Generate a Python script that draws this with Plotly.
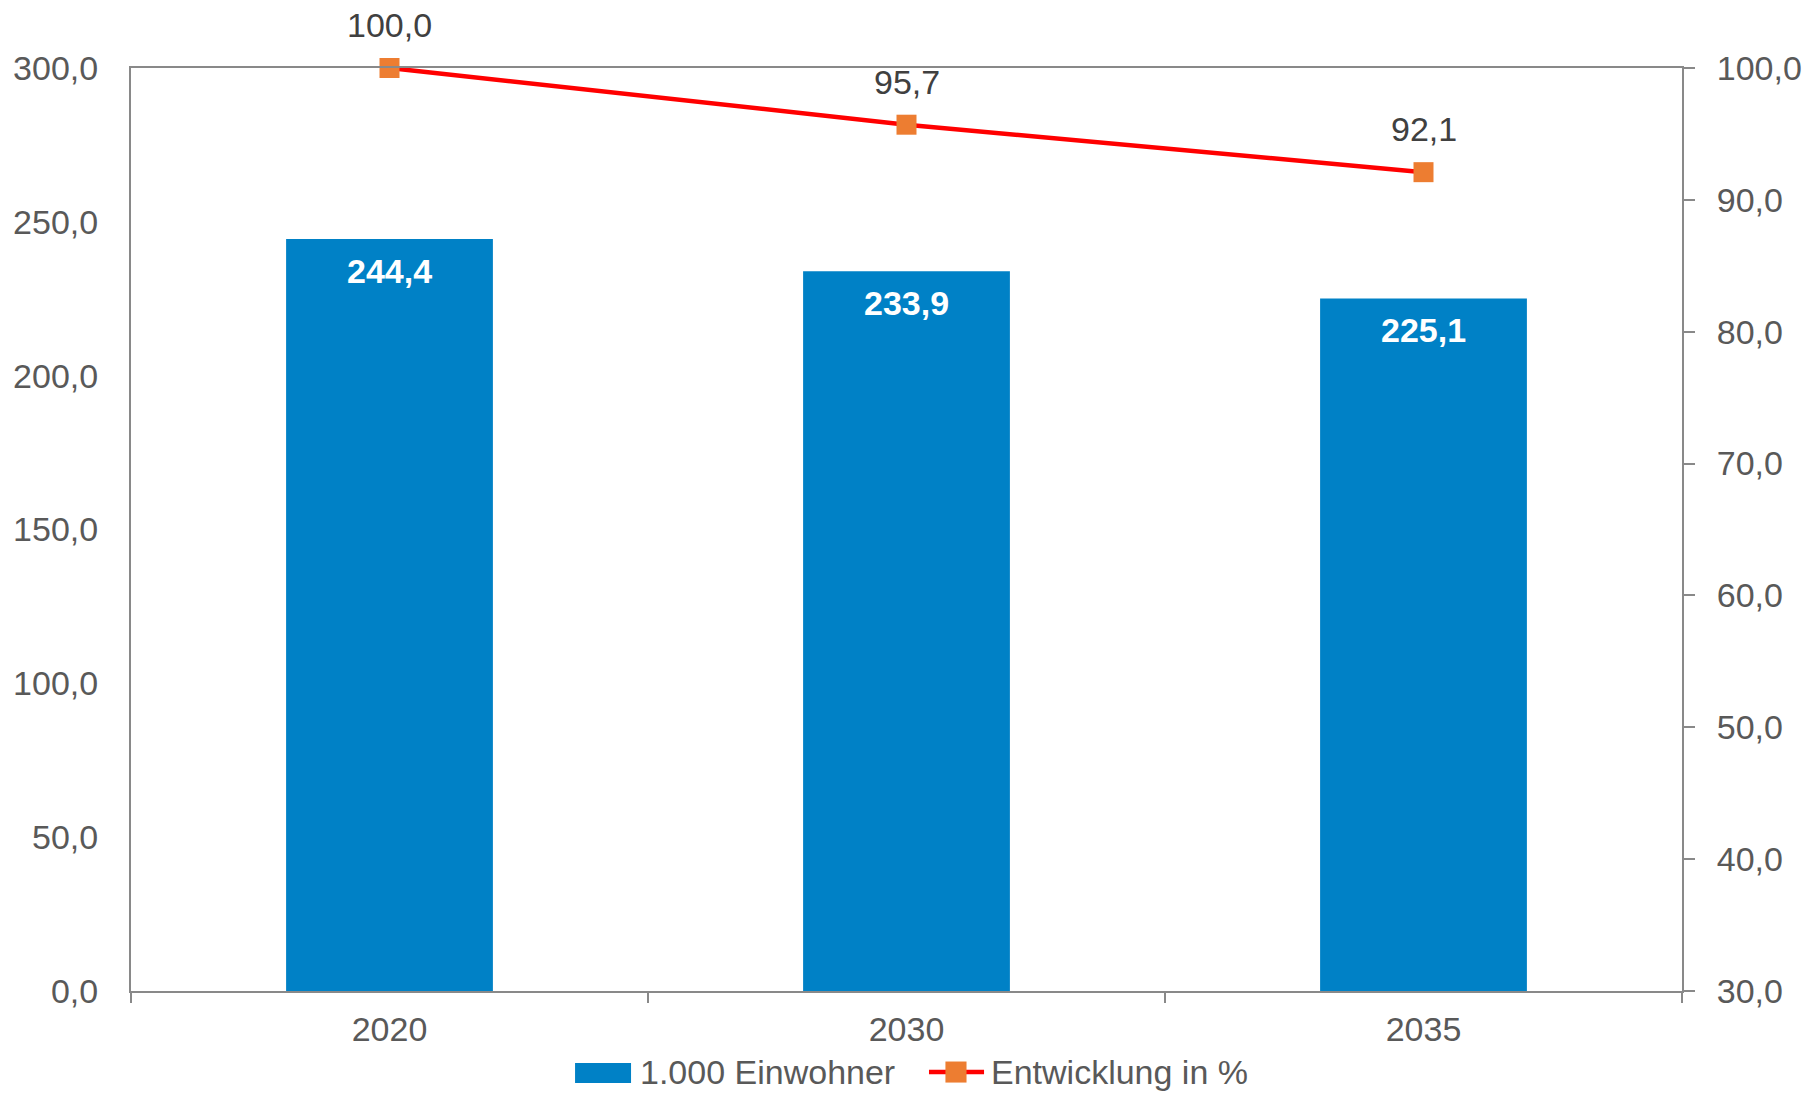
import plotly.graph_objects as go

years = ["2020", "2030", "2035"]
einwohner = [244.4, 233.9, 225.1]
entwicklung = [100.0, 95.7, 92.1]
left_ticks = [0, 50, 100, 150, 200, 250, 300]
right_ticks = [30, 40, 50, 60, 70, 80, 90, 100]
bar_name = "1.000 Einwohner"
line_name = "Entwicklung in %"

FONT = "Liberation Sans, Arial, sans-serif"
FS = 34
GRAY = "#595959"
AXIS = "#898989"
BLUE = "#0081C6"
RED = "#FF0000"
ORANGE = "#ED7D31"

def de(v):
    return f"{v:.1f}".replace(".", ",")

fig = go.Figure()
fig.add_trace(go.Bar(
    x=years, y=einwohner, name=bar_name,
    marker=dict(color=BLUE, line=dict(width=0)),
    yaxis="y", showlegend=False,
))
fig.add_trace(go.Scatter(
    x=years, y=entwicklung, name=line_name,
    mode="lines+markers",
    line=dict(color=RED, width=4.5),
    marker=dict(symbol="square", size=20, color=ORANGE, line=dict(width=0)),
    yaxis="y2", showlegend=False, cliponaxis=False,
))

annotations = []
for i, v in enumerate(einwohner):
    annotations.append(dict(x=i, y=v, xref="x", yref="y", text=f"<b>{de(v)}</b>",
                            showarrow=False, yshift=-32,
                            font=dict(family=FONT, size=FS, color="white")))
for i, v in enumerate(entwicklung):
    annotations.append(dict(x=i, y=v, xref="x", yref="y2", text=de(v),
                            showarrow=False, yshift=43,
                            font=dict(family=FONT, size=FS, color="#404040")))

# custom legend (paper coordinates)
ly = -0.0878
annotations.append(dict(x=0.3269, y=ly, xref="paper", yref="paper", text=bar_name,
                        xanchor="left", yanchor="middle", showarrow=False,
                        font=dict(family=FONT, size=FS, color=GRAY)))
annotations.append(dict(x=0.5535, y=ly, xref="paper", yref="paper", text=line_name,
                        xanchor="left", yanchor="middle", showarrow=False,
                        font=dict(family=FONT, size=FS, color=GRAY)))
shapes = [
    dict(type="rect", xref="paper", yref="paper", x0=0.2863, x1=0.3224, y0=-0.0997, y1=-0.0780,
         fillcolor=BLUE, line=dict(width=0)),
    dict(type="line", xref="paper", yref="paper", x0=0.5145, x1=0.5500, y0=ly, y1=ly,
         line=dict(color=RED, width=4.5)),
    dict(type="rect", xref="paper", yref="paper", x0=0.5251, x1=0.5387, y0=-0.0992, y1=-0.0764,
         fillcolor=ORANGE, line=dict(width=0)),
]

fig.update_layout(
    width=1816, height=1093,
    paper_bgcolor="white", plot_bgcolor="white",
    margin=dict(l=131, r=134, t=68, b=102, autoexpand=False),
    font=dict(family=FONT, size=FS, color=GRAY),
    separators=",.",
    bargap=0.6,
    showlegend=False,
    annotations=annotations,
    shapes=shapes,
    xaxis=dict(
        type="category", range=[-0.5, 2.5], showline=True, linecolor=AXIS, linewidth=2, mirror=True,
        ticks="outside", tickson="boundaries", ticklen=10, tickcolor=AXIS, tickwidth=2,
        showgrid=False, tickfont=dict(family=FONT, size=FS, color=GRAY),
        ticklabelstandoff=7, tickangle=0, automargin=False,
    ),
    yaxis=dict(
        range=[0, 300], tickvals=left_ticks, ticktext=[de(t) for t in left_ticks],
        showline=True, linecolor=AXIS, linewidth=2, showgrid=False, zeroline=False,
        ticks="", tickfont=dict(family=FONT, size=FS, color=GRAY),
        ticklabelstandoff=24, automargin=False,
    ),
    yaxis2=dict(
        range=[30, 100], tickvals=right_ticks, ticktext=[de(t) for t in right_ticks],
        overlaying="y", side="right",
        showline=True, linecolor=AXIS, linewidth=2, showgrid=False, zeroline=False,
        ticks="outside", ticklen=11, tickcolor=AXIS, tickwidth=2,
        tickfont=dict(family=FONT, size=FS, color=GRAY),
        ticklabelstandoff=15, automargin=False,
    ),
)

fig.write_html("out.html", config={"displayModeBar": False},
               post_script="document.body.style.margin='0';document.body.style.overflow='hidden';")
